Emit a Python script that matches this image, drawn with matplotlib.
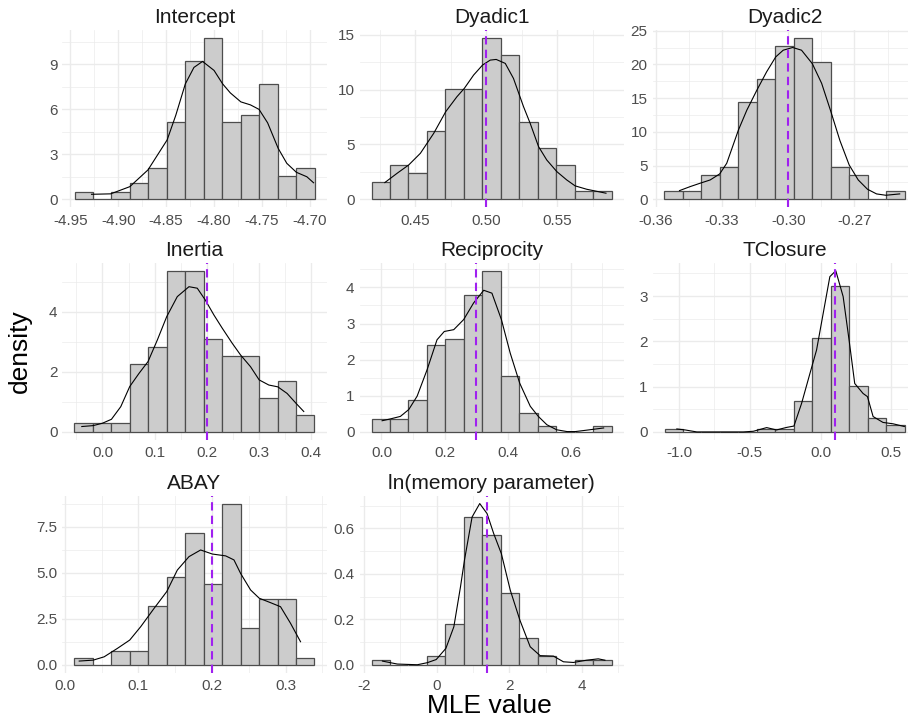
import numpy as np
import matplotlib
matplotlib.use("Agg")
import matplotlib.pyplot as plt

# histogram bins (left edge of first bin, bin width) and densities
intercept_start, intercept_width = -4.9458, 0.01929
intercept_dens = [0.51, 0, 0.51, 1.07, 2.07, 5.13, 9.24, 10.76, 5.13, 5.64, 7.69, 1.53, 2.07]
intercept_kx = [-4.928, -4.908, -4.888, -4.869, -4.849, -4.840, -4.830, -4.821, -4.812, -4.800,
                -4.791, -4.783, -4.772, -4.762, -4.753, -4.744, -4.733, -4.724, -4.714, -4.703, -4.696]
intercept_ky = [0.33, 0.36, 0.84, 1.96, 3.96, 5.6, 7.7, 8.8, 9.2, 8.6,
                7.7, 7.1, 6.5, 6.3, 6.0, 5.1, 3.4, 2.4, 1.8, 1.5, 1.1]

dyadic1_start, dyadic1_width = 0.419, 0.01303
dyadic1_dens = [1.58, 3.10, 2.37, 6.19, 10.08, 10.08, 14.70, 13.15, 7.01, 4.65, 3.10, 0.79, 0.79]
dyadic1_kx = [0.4284, 0.4371, 0.4453, 0.4535, 0.4629, 0.4714, 0.4793, 0.4845, 0.4911, 0.4974, 0.5028,
              0.5070, 0.5134, 0.5192, 0.5263, 0.5310, 0.5369, 0.5427, 0.5498, 0.5568, 0.5627, 0.5709, 0.5845]
dyadic1_ky = [1.52, 2.37, 3.13, 4.19, 6.01, 7.99, 9.35, 10.11, 11.33, 12.24, 12.69,
              12.75, 12.39, 11.02, 8.44, 6.92, 4.80, 3.58, 2.52, 1.76, 1.22, 0.91, 0.55]

dyadic2_start, dyadic2_width = -0.3561, 0.008367
dyadic2_dens = [1.23, 1.23, 3.6, 4.83, 14.35, 17.9, 22.7, 23.9, 20.3, 4.83, 3.6, 0, 1.23]
dyadic2_kx = [-0.3493, -0.3445, -0.3400, -0.3354, -0.3311, -0.3279, -0.3226, -0.3188, -0.3142, -0.3098,
              -0.3057, -0.3023, -0.2980, -0.2940, -0.2891, -0.2849, -0.2809, -0.2766, -0.2724, -0.2683,
              -0.2641, -0.2600, -0.2558, -0.2495]
dyadic2_ky = [1.28, 1.87, 2.37, 2.86, 3.75, 5.33, 10.26, 13.2, 16.2, 18.9,
              21.1, 22.1, 22.5, 22.1, 20.1, 17.2, 13.2, 8.7, 5.08, 2.86,
              1.48, 0.79, 0.59, 0.79]

inertia_start, inertia_width = -0.0536, 0.0354
inertia_dens = [0.29, 0.29, 0.29, 2.25, 2.81, 5.36, 5.36, 3.10, 2.54, 2.54, 1.12, 1.68, 0.56]
inertia_kx = [-0.0396, -0.0179, 0.0, 0.0172, 0.0351, 0.0523, 0.0702, 0.0874, 0.1053, 0.1231, 0.1435,
              0.1659, 0.1818, 0.1971, 0.2137, 0.2297, 0.2488, 0.2648, 0.2839, 0.3005, 0.3190,
              0.3362, 0.3541, 0.3713, 0.3860]
inertia_ky = [0.18, 0.21, 0.29, 0.42, 0.84, 1.51, 1.95, 2.34, 3.06, 3.83, 4.50,
              4.83, 4.78, 4.39, 3.89, 3.45, 2.95, 2.56, 2.17, 1.73, 1.56,
              1.50, 1.28, 0.95, 0.68]

recip_start, recip_width = -0.0316, 0.0585
recip_dens = [0.35, 0.35, 0.87, 2.41, 2.58, 3.78, 4.46, 1.55, 0.53, 0.175, 0, 0, 0.175]
recip_kx = [0.002, 0.028, 0.060, 0.0865, 0.113, 0.1445, 0.176, 0.199, 0.229, 0.2605, 0.292, 0.324,
            0.350, 0.380, 0.408, 0.438, 0.4715, 0.497, 0.524, 0.555, 0.588, 0.614, 0.651, 0.704]
recip_ky = [0.31, 0.36, 0.43, 0.62, 0.99, 1.72, 2.55, 2.78, 2.83, 3.11, 3.57, 3.92,
            3.84, 3.11, 2.18, 1.35, 0.71, 0.43, 0.20, 0.06, 0.01, 0.01, 0.05, 0.11]

tclos_start, tclos_width = -1.1037, 0.1306
tclos_dens = [0.074, 0, 0, 0, 0, 0.074, 0.074, 0.69, 2.07, 3.23, 1.01, 0.30, 0.15]
tclos_kx = [-1.0165, -0.9576, -0.875, -0.781, -0.664, -0.546, -0.475, -0.381, -0.311, -0.240, -0.188,
            -0.134, -0.075, -0.028, 0.019, 0.066, 0.108, 0.160, 0.202, 0.242, 0.301, 0.332,
            0.372, 0.442, 0.513, 0.593]
tclos_ky = [0.066, 0.044, 0.0, 0.0, 0.0, 0.0, 0.015, 0.096, 0.044, 0.10, 0.13,
            0.63, 1.29, 1.81, 2.62, 3.43, 3.56, 2.99, 2.03, 1.07, 0.85, 0.78,
            0.34, 0.21, 0.18, 0.12]

abay_start, abay_width = 0.0131, 0.0251
abay_dens = [0.38, 0, 0.76, 0.76, 3.17, 4.76, 7.16, 4.37, 8.75, 1.97, 3.57, 3.57, 0.38]
abay_kx = [0.0195, 0.0385, 0.0534, 0.0715, 0.0882, 0.1032, 0.1213, 0.1385, 0.1529, 0.1688, 0.1846,
           0.2005, 0.2186, 0.2299, 0.2389, 0.2525, 0.2643, 0.2796, 0.2932, 0.3068, 0.3204]
abay_ky = [0.20, 0.25, 0.43, 0.89, 1.34, 2.07, 3.06, 3.97, 5.14, 5.87, 6.23,
           6.01, 5.91, 5.69, 4.96, 4.06, 3.61, 3.37, 3.15, 2.25, 1.25]

lnmem_start, lnmem_width = -1.79, 0.5078
lnmem_dens = [0.019, 0, 0, 0.038, 0.179, 0.650, 0.571, 0.315, 0.119, 0.038, 0, 0.019, 0.019]
lnmem_kx = [-1.489, -1.078, -0.530, -0.256, -0.009, 0.256, 0.475, 0.658, 0.767, 0.977, 1.187, 1.388,
            1.571, 1.781, 2.027, 2.292, 2.575, 2.849, 3.215, 3.489, 3.763, 4.128, 4.447, 4.630]
lnmem_ky = [0.016, 0.003, 0.0, 0.009, 0.023, 0.072, 0.167, 0.343, 0.46, 0.65, 0.709, 0.665,
            0.577, 0.489, 0.328, 0.196, 0.079, 0.040, 0.038, 0.013, 0.010, 0.020, 0.026, 0.020]

titles = ["Intercept", "Dyadic1", "Dyadic2", "Inertia", "Reciprocity", "TClosure",
          "ABAY", "ln(memory parameter)"]
true_values = [None, 0.5, -0.3, 0.2, 0.3, 0.1, 0.2, 1.386]

xticks = [[-4.95, -4.90, -4.85, -4.80, -4.75, -4.70], [0.45, 0.50, 0.55],
          [-0.36, -0.33, -0.30, -0.27], [0.0, 0.1, 0.2, 0.3, 0.4], [0.0, 0.2, 0.4, 0.6],
          [-1.0, -0.5, 0.0, 0.5], [0.0, 0.1, 0.2, 0.3], [-2, 0, 2, 4]]
xlabels = [["-4.95", "-4.90", "-4.85", "-4.80", "-4.75", "-4.70"], ["0.45", "0.50", "0.55"],
           ["-0.36", "-0.33", "-0.30", "-0.27"], ["0.0", "0.1", "0.2", "0.3", "0.4"],
           ["0.0", "0.2", "0.4", "0.6"], ["-1.0", "-0.5", "0.0", "0.5"],
           ["0.0", "0.1", "0.2", "0.3"], ["-2", "0", "2", "4"]]
yticks = [[0, 3, 6, 9], [0, 5, 10, 15], [0, 5, 10, 15, 20, 25], [0, 2, 4], [0, 1, 2, 3, 4],
          [0, 1, 2, 3], [0.0, 2.5, 5.0, 7.5], [0.0, 0.2, 0.4, 0.6]]
ylabels = [["0", "3", "6", "9"], ["0", "5", "10", "15"], ["0", "5", "10", "15", "20", "25"],
           ["0", "2", "4"], ["0", "1", "2", "3", "4"], ["0", "1", "2", "3"],
           ["0.0", "2.5", "5.0", "7.5"], ["0.0", "0.2", "0.4", "0.6"]]

panels = [
    (intercept_start, intercept_width, intercept_dens, intercept_kx, intercept_ky),
    (dyadic1_start, dyadic1_width, dyadic1_dens, dyadic1_kx, dyadic1_ky),
    (dyadic2_start, dyadic2_width, dyadic2_dens, dyadic2_kx, dyadic2_ky),
    (inertia_start, inertia_width, inertia_dens, inertia_kx, inertia_ky),
    (recip_start, recip_width, recip_dens, recip_kx, recip_ky),
    (tclos_start, tclos_width, tclos_dens, tclos_kx, tclos_ky),
    (abay_start, abay_width, abay_dens, abay_kx, abay_ky),
    (lnmem_start, lnmem_width, lnmem_dens, lnmem_kx, lnmem_ky),
]

plt.rcParams['font.family'] = ['Liberation Sans', 'DejaVu Sans']

W, H = 908, 719
fig = plt.figure(figsize=(W / 100, H / 100), dpi=100)
fig.patch.set_facecolor("white")

# panel layout in pixels (third column runs past the right edge, as in the original)
col_left = [62.5, 359.5, 652.5]
row_top = [30.0, 262.7, 495.5]
pw, ph = 264.0, 177.3


def midpoints(t):
    step = t[1] - t[0]
    return [t[0] - step / 2] + [a + step / 2 for a in t]


for i, (start, width, dens, kx, ky) in enumerate(panels):
    r, c = divmod(i, 3)
    ax = fig.add_axes([col_left[c] / W, 1 - (row_top[r] + ph) / H, pw / W, ph / H])

    edges = start + width * np.arange(len(dens) + 1)
    ax.bar(edges[:-1], dens, width=width, align="edge", color="#CCCCCC",
           edgecolor="#4D4D4D", linewidth=0.9, zorder=2)
    ax.plot(kx, ky, color="black", linewidth=0.8, zorder=3)
    tv = true_values[i]
    if tv is not None:
        ax.axvline(tv, color="#A020F0", linestyle=(0, (4, 2.5)), linewidth=1.5, zorder=4)

    xs = [edges[0], edges[-1], min(kx), max(kx)] + ([tv] if tv is not None else [])
    x0, x1 = min(xs), max(xs)
    y1 = max(max(dens), max(ky))

    ax.set_xticks(xticks[i])
    ax.set_xticklabels(xlabels[i])
    ax.set_yticks(yticks[i])
    ax.set_yticklabels(ylabels[i])
    ax.set_xticks(midpoints(xticks[i]), minor=True)
    ax.set_yticks(midpoints(yticks[i]), minor=True)
    ax.set_xlim(x0 - 0.05 * (x1 - x0), x1 + 0.05 * (x1 - x0))
    ax.set_ylim(-0.05 * y1, 1.05 * y1)

    ax.grid(which="major", color="#EBEBEB", linewidth=1.0)
    ax.grid(which="minor", color="#EBEBEB", linewidth=0.5)
    ax.set_axisbelow(True)
    for s in ax.spines.values():
        s.set_visible(False)
    ax.tick_params(which="both", length=0, labelsize=11, labelcolor="#4D4D4D")
    ax.tick_params(axis="x", pad=4.5)
    ax.tick_params(axis="y", pad=3.6)

    ax.annotate(titles[i], xy=(0.5, 1), xycoords="axes fraction", xytext=(0, 4.8),
                textcoords="offset points", ha="center", va="baseline",
                fontsize=15, color="#1A1A1A")

fig.text(489.7 / W, 1 - 713 / H, "MLE value", ha="center", va="baseline", fontsize=19)
fig.text(20 / W, 1 - 351.5 / H, "density", ha="center", va="center", rotation=90, fontsize=19)

fig.savefig("out.png", dpi=100, facecolor="white")
